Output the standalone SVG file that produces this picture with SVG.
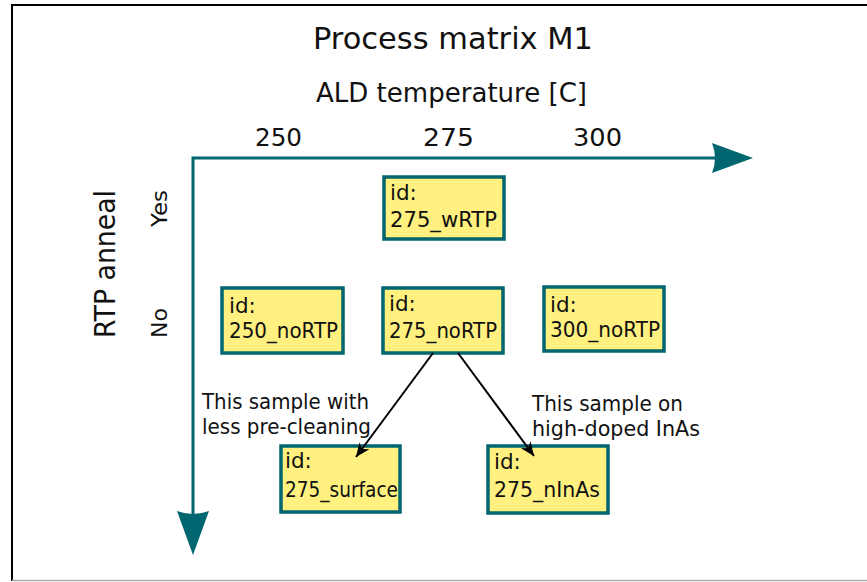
<svg xmlns="http://www.w3.org/2000/svg" width="867" height="582" viewBox="0 0 867 582">
<style>
text{font-family:"DejaVu Sans","Liberation Sans",sans-serif;fill:#111}
.box{fill:#fff07f;stroke:#006670;stroke-width:3.5}
.bt{font-size:21.5px}
.ann{font-size:21px}
.axis{stroke:#006670;stroke-width:3;fill:none}
.ah{fill:#006670}
.conn{stroke:#000;stroke-width:2;fill:none}
</style>
<defs>
<marker id="arr" markerUnits="userSpaceOnUse" markerWidth="18" markerHeight="14" refX="14" refY="6" orient="auto">
<path d="M0,0 L14,6 L0,12 L4,6 Z" fill="#000"/>
</marker>
</defs>
<rect x="0" y="0" width="867" height="582" fill="#fff"/>
<g id="frame">
<line x1="12" y1="5" x2="867" y2="5" stroke="#000" stroke-width="2"/>
<line x1="12" y1="4" x2="12" y2="581" stroke="#000" stroke-width="2"/>
<line x1="12" y1="580.5" x2="867" y2="580.5" stroke="#aaa" stroke-width="1.5"/>
</g>
<g id="title">
<text x="313" y="49" font-size="30" textLength="280" lengthAdjust="spacingAndGlyphs">Process matrix M1</text>
<text x="316" y="102" font-size="26" textLength="271" lengthAdjust="spacingAndGlyphs">ALD temperature [C]</text>
<text x="255" y="146" font-size="25" textLength="47" lengthAdjust="spacingAndGlyphs">250</text>
<text x="423" y="146" font-size="25" textLength="51" lengthAdjust="spacingAndGlyphs">275</text>
<text x="573" y="146" font-size="25" textLength="49" lengthAdjust="spacingAndGlyphs">300</text>
<text transform="translate(115,338) rotate(-90)" font-size="29" textLength="148" lengthAdjust="spacingAndGlyphs">RTP anneal</text>
<text transform="translate(167,227) rotate(-90)" font-size="22" textLength="37" lengthAdjust="spacingAndGlyphs">Yes</text>
<text transform="translate(167,338) rotate(-90)" font-size="22" textLength="30" lengthAdjust="spacingAndGlyphs">No</text>
</g>
<g id="axes">
<polyline class="axis" points="193,515 193,158 716,158"/>
<path class="ah" d="M753,158 L712,143 Q718,158 712,173 Z"/>
<path class="ah" d="M193,555 L177,511 Q193,517 209,511 Z"/>
</g>
<g id="n275_wRTP">
<rect class="box" x="384" y="177" width="120" height="62"/>
<text class="bt" x="390" y="200">id:</text>
<text class="bt" x="390" y="227" textLength="107" lengthAdjust="spacingAndGlyphs">275_wRTP</text>
</g>
<g id="n250_noRTP">
<rect class="box" x="222" y="288" width="121" height="65"/>
<text class="bt" x="229" y="313">id:</text>
<text class="bt" x="229" y="338" textLength="109" lengthAdjust="spacingAndGlyphs">250_noRTP</text>
</g>
<g id="n275_noRTP">
<rect class="box" x="383" y="288" width="120" height="65"/>
<text class="bt" x="389" y="311">id:</text>
<text class="bt" x="389" y="338" textLength="108" lengthAdjust="spacingAndGlyphs">275_noRTP</text>
</g>
<g id="n300_noRTP">
<rect class="box" x="544" y="287" width="120" height="64"/>
<text class="bt" x="550" y="312">id:</text>
<text class="bt" x="550" y="337" textLength="110" lengthAdjust="spacingAndGlyphs">300_noRTP</text>
</g>
<g id="n275_surface">
<rect class="box" x="281" y="446" width="119" height="66"/>
<text class="bt" x="285" y="468">id:</text>
<text class="bt" x="285" y="497" textLength="113" lengthAdjust="spacingAndGlyphs">275_surface</text>
</g>
<g id="n275_nInAs">
<rect class="box" x="488" y="446" width="120" height="67"/>
<text class="bt" x="494" y="469">id:</text>
<text class="bt" x="494" y="497" textLength="106" lengthAdjust="spacingAndGlyphs">275_nInAs</text>
</g>
<g id="connectors">
<line class="conn" x1="433" y1="353" x2="356" y2="457" marker-end="url(#arr)"/>
<line class="conn" x1="458" y1="353" x2="534" y2="456" marker-end="url(#arr)"/>
</g>
<g id="annotations">
<text class="ann" x="202" y="409" textLength="167" lengthAdjust="spacingAndGlyphs">This sample with</text>
<text class="ann" x="202" y="434" textLength="169" lengthAdjust="spacingAndGlyphs">less pre-cleaning</text>
<text class="ann" x="532" y="411" textLength="151" lengthAdjust="spacingAndGlyphs">This sample on</text>
<text class="ann" x="532" y="436" textLength="168" lengthAdjust="spacingAndGlyphs">high-doped InAs</text>
</g>
</svg>
